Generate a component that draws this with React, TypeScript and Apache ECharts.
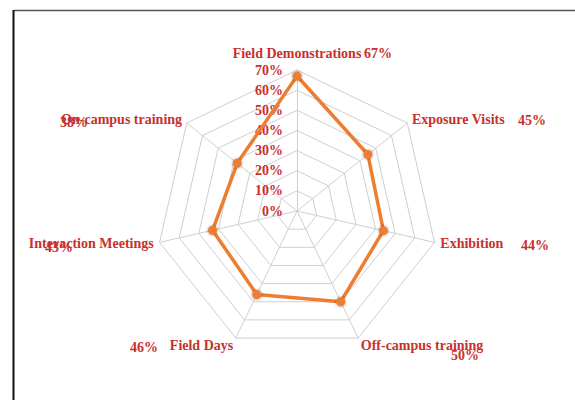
import React, { useEffect, useRef } from "react";
import * as echarts from "echarts";

// Categories in clockwise order starting at the top
const categories = [
  "Field Demonstrations",
  "Exposure Visits",
  "Exhibition",
  "Off-campus training",
  "Field Days",
  "Interaction Meetings",
  "On-campus training",
];
const values = [67, 45, 44, 50, 46, 43, 38];
const tickLabels = ["0%", "10%", "20%", "30%", "40%", "50%", "60%", "70%"];
const axisMax = 70;

const RED = "#C8302C";
const ORANGE = "#ED7D31";
const FONT = "Liberation Serif";

// value label positions (left x, middle y) — annotation placement only
const valueLabelPos: [number, number][] = [
  [364, 53],
  [518, 120],
  [521, 245],
  [451, 355],
  [130, 347],
  [45, 247],
  [60, 122],
];

export default function App() {
  const ref = useRef<HTMLDivElement>(null);
  useEffect(() => {
    if (!ref.current) return;
    const chart = echarts.init(ref.current, undefined, { renderer: "svg" });
    // ECharts places indicators counter-clockwise: reverse all but the first
    const order = [0, ...categories.slice(1).map((_, i) => categories.length - 1 - i)];
    const indicator = order.map((i) => ({ name: categories[i], max: axisMax, min: 0 }));
    const radarValues = order.map((i) => values[i]);
    const cx = 297;
    const cy = 211;
    const r = 141;
    const textBase = { color: RED, fontFamily: FONT, fontWeight: "bold", fontSize: 14 };

    chart.setOption({
      animation: false,
      backgroundColor: "#ffffff",
      grid: { left: cx, top: cy - r, height: r, width: 1, containLabel: false },
      xAxis: { type: "value", show: false },
      yAxis: {
        type: "value",
        min: 0,
        max: axisMax,
        interval: 10,
        axisLine: { show: false },
        axisTick: { show: false },
        splitLine: { show: false },
        axisLabel: {
          margin: 14,
          ...textBase,
          formatter: (v: number) => tickLabels[Math.round(v / 10)] ?? `${v}%`,
        },
      },
      radar: {
        center: [cx, cy],
        radius: r,
        startAngle: 90,
        splitNumber: 7,
        shape: "polygon",
        nameGap: 6,
        indicator,
        axisName: {
          ...textBase,
          formatter: (name: string) => {
            if (name === categories[0]) return `{top|${name}}`;
            if (name === categories[3] || name === categories[4]) return `{bot|${name}}`;
            return `{mid|${name}}`;
          },
          rich: {
            top: { ...textBase, padding: [0, 0, 4, 0] },
            bot: { ...textBase, padding: [4, 0, 0, 0] },
            mid: { ...textBase, padding: [0, 0, 0, 0] },
          },
        },
        splitLine: { lineStyle: { color: "#cfcfcf", width: 1 } },
        splitArea: { show: false },
        axisLine: { lineStyle: { color: "#cfcfcf", width: 1 } },
        axisLabel: { show: false },
        axisTick: { show: false },
      },
      series: [
        {
          type: "radar",
          symbol: "circle",
          symbolSize: 9,
          lineStyle: { color: ORANGE, width: 3.5 },
          itemStyle: {
            color: ORANGE,
            shadowBlur: 3,
            shadowColor: "rgba(0,0,0,0.45)",
          },
          data: [{ value: radarValues, name: "Share" }],
        },
      ],
      graphic: [
        {
          type: "line",
          shape: { x1: 14, y1: 10.5, x2: 575, y2: 10.5 },
          style: { stroke: "#555555", lineWidth: 1.5 },
        },
        {
          type: "line",
          shape: { x1: 13.5, y1: 10, x2: 13.5, y2: 400 },
          style: { stroke: "#111111", lineWidth: 2 },
        },
        ...values.map((v, i) => ({
          type: "text",
          x: valueLabelPos[i][0],
          y: valueLabelPos[i][1],
          style: {
            text: `${v}%`,
            fill: RED,
            font: `bold 14px "${FONT}"`,
            verticalAlign: "middle",
          },
        })),
      ],
    });
    return () => chart.dispose();
  }, []);
  return (
    <div
      ref={ref}
      style={{ position: "absolute", left: 0, top: 0, width: 575, height: 400 }}
    />
  );
}
